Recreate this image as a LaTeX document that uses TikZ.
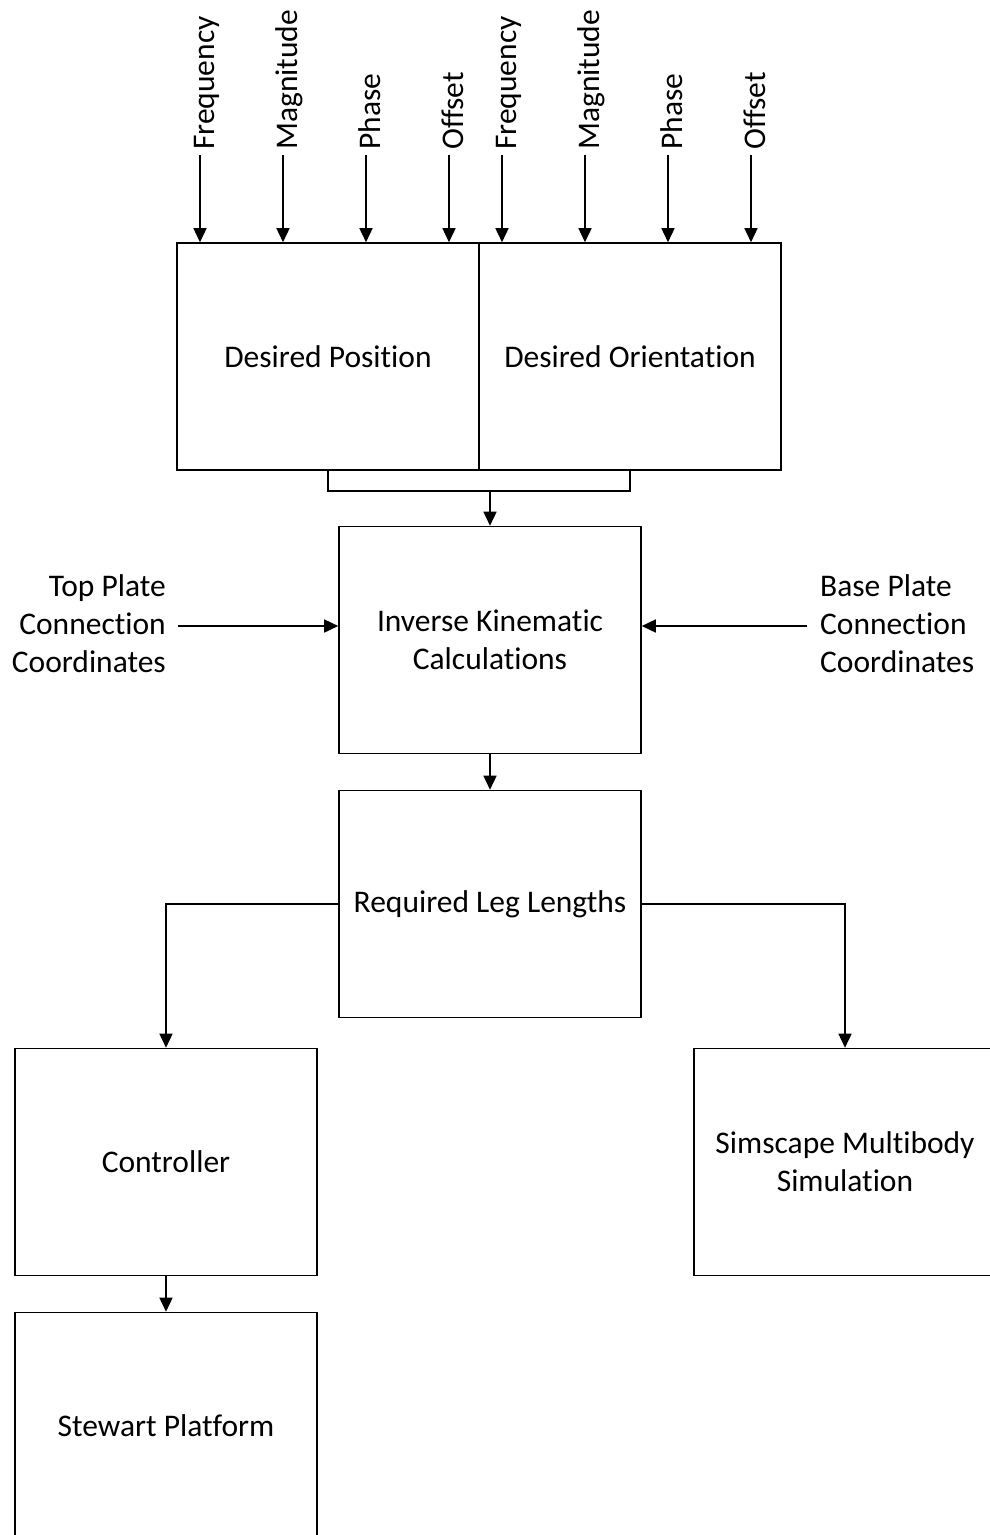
\documentclass[tikz,border=0pt]{standalone}
\usepackage{fontspec}
\setmainfont{Carlito}[Ligatures=NoCommon]
\usetikzlibrary{arrows.meta}
\newcommand{\fsz}{\fontsize{31.5}{38}\selectfont}
\begin{document}
\begin{tikzpicture}[x=1pt,y=-1pt,
 blk/.style={draw, line width=1.6pt, minimum width=302pt, minimum height=227pt, inner sep=0pt, align=center, font=\fsz},
 arr/.style={line width=1.6pt, -{Triangle[width=13pt,length=14pt]}},
 lbl/.style={font=\fsz, inner sep=0pt},
 ]
\useasboundingbox (0,0) rectangle (990,1535);
\clip (0,0) rectangle (990,1535);
\node[blk] (dp) at (328,356.5) {Desired Position};
\node[blk] (do) at (630,356.5) {Desired Orientation};
\node[blk] (ik) at (490,640) {Inverse Kinematic\\Calculations};
\node[blk] (rl) at (490,904) {Required Leg Lengths};
\node[blk] (ct) at (166,1162) {Controller};
\node[blk] (ss) at (845,1162) {Simscape Multibody\\Simulation};
\node[blk] (sp) at (166,1426) {Stewart Platform};

\foreach \n/\x/\t in {a1/200/Frequency, a2/283/Magnitude, a3/366/Phase, a4/449/Offset,
                      b1/502/Frequency, b2/585/Magnitude, b3/668/Phase, b4/751/Offset}{
  \node[lbl, rotate=90, anchor=base west] (\n) at (\x+14,150) {\t};
  \draw[arr] ([xshift=-14pt,yshift=-5pt]\n.base west) -- ([xshift=-14pt]\n.base west |- dp.north);
}

\draw[line width=1.6pt] (dp.south) -- ++(0,20) coordinate (bl) -| (do.south);
\draw[arr] (bl -| ik.north) -- (ik.north);

\node[lbl, align=right, anchor=east] (tp) at (166,624) {Top Plate\\Connection\\Coordinates};
\node[lbl, align=left, anchor=west] (bp) at (820,624) {Base Plate\\Connection\\Coordinates};
\draw[arr] ([xshift=12pt,yshift=-2pt]tp.east) -- ([yshift=-2pt]tp.east -| ik.west);
\draw[arr] ([xshift=-13pt,yshift=-2pt]bp.west) -- ([yshift=-2pt]bp.west -| ik.east);

\draw[arr] (ik.south) -- (rl.north);
\draw[arr] (rl.west) -| (ct.north);
\draw[arr] (rl.east) -| (ss.north);
\draw[arr] (ct.south) -- (sp.north);
\end{tikzpicture}
\end{document}
